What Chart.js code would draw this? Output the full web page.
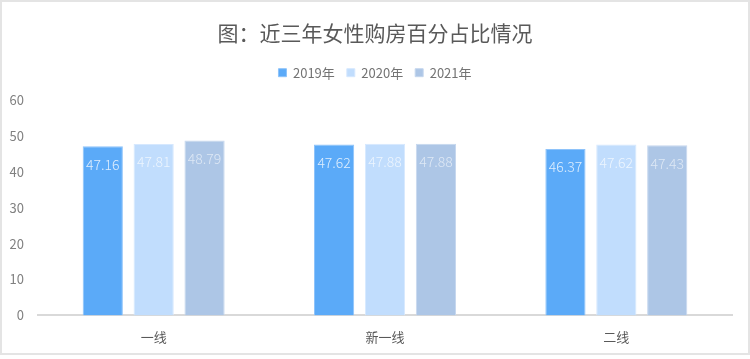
<!DOCTYPE html>
<html><head><meta charset="utf-8">
<script src="https://cdn.jsdelivr.net/npm/chart.js@4/dist/chart.umd.min.js"></script>
<style>
html,body{margin:0;padding:0;background:#fff;}
#wrap{position:relative;width:750px;height:359px;}
#frame{position:absolute;left:0;top:0;width:750px;height:355px;box-sizing:border-box;border:2px solid #e4e4e4;pointer-events:none;}
canvas{position:absolute;left:0;top:0;}
</style></head>
<body><div id="wrap"><canvas id="c" width="750" height="359"></canvas><div id="frame"></div></div>
<script>
const categories = ['一线', '新一线', '二线'];
const seriesNames = ['2019年', '2020年', '2021年'];
const values2019 = [47.16, 47.62, 46.37];
const values2020 = [47.81, 47.88, 47.62];
const values2021 = [48.79, 47.88, 47.43];
const yTicks = [0, 10, 20, 30, 40, 50, 60];

const FONT = '"Microsoft YaHei", "Noto Sans CJK SC", sans-serif';
const fills = ['#5BAAF8', '#C1DDFD', '#ADC6E6'];
const borders = ['#8EC3FA', '#D6E8FE', '#C6D7EE'];
const labelColors = ['rgba(255,255,255,0.8)', 'rgba(255,255,255,0.7)', 'rgba(255,255,255,0.6)'];

const labelPlugin = {
  id: 'barLabels',
  afterDatasetsDraw(chart) {
    const ctx = chart.ctx;
    ctx.save();
    ctx.font = '300 14px ' + FONT;
    ctx.textAlign = 'center';
    ctx.textBaseline = 'middle';
    chart.data.datasets.forEach((ds, i) => {
      const meta = chart.getDatasetMeta(i);
      meta.data.forEach((bar, j) => {
        ctx.fillStyle = labelColors[i];
        ctx.fillText(ds.data[j].toFixed(2), bar.x, bar.y + 18);
      });
    });
    ctx.restore();
  }
};

const legendMargin = {
  id: 'legendMargin',
  beforeInit(chart) {
    const orig = chart.legend.fit;
    chart.legend.fit = function () {
      orig.bind(chart.legend)();
      this.height += 11;
    };
  }
};

new Chart(document.getElementById('c'), {
  type: 'bar',
  data: {
    labels: categories,
    datasets: [values2019, values2020, values2021].map((d, i) => ({
      label: seriesNames[i],
      data: d,
      backgroundColor: fills[i],
      borderColor: borders[i],
      borderWidth: 1,
      categoryPercentage: 0.66,
      barPercentage: 0.79
    }))
  },
  options: {
    responsive: false,
    animation: false,
    devicePixelRatio: 1,
    layout: { padding: { left: 0, right: 0, top: 0, bottom: 0 } },
    plugins: {
      title: {
        display: true,
        text: '图：近三年女性购房百分占比情况',
        color: '#595959',
        font: { family: FONT, size: 21, weight: 'normal' },
        padding: { top: 20, bottom: 9 }
      },
      legend: {
        display: true,
        position: 'top',
        labels: {
          color: '#737373',
          font: { family: FONT, size: 13 },
          boxWidth: 8,
          boxHeight: 8,
          padding: 12
        }
      },
      tooltip: { enabled: false }
    },
    scales: {
      x: {
        grid: { display: false, drawTicks: false },
        border: { display: true, color: '#d9d9d9', width: 2 },
        ticks: { color: '#595959', font: { family: FONT, size: 13 }, padding: 14 }
      },
      y: {
        min: 0, max: 60,
        afterBuildTicks(scale) { scale.ticks = yTicks.map(v => ({ value: v })); },
        afterFit(scale) { scale.width = 38; },
        grid: { display: false, drawTicks: false },
        border: { display: false },
        ticks: { color: '#808080', font: { family: FONT, size: 13 }, padding: 14 }
      },
      yRight: {
        position: 'right',
        min: 0, max: 60,
        afterFit(scale) { scale.width = 18; },
        grid: { display: false, drawTicks: false },
        border: { display: false },
        ticks: { display: false }
      }
    }
  },
  plugins: [labelPlugin, legendMargin]
});
</script></body></html>
